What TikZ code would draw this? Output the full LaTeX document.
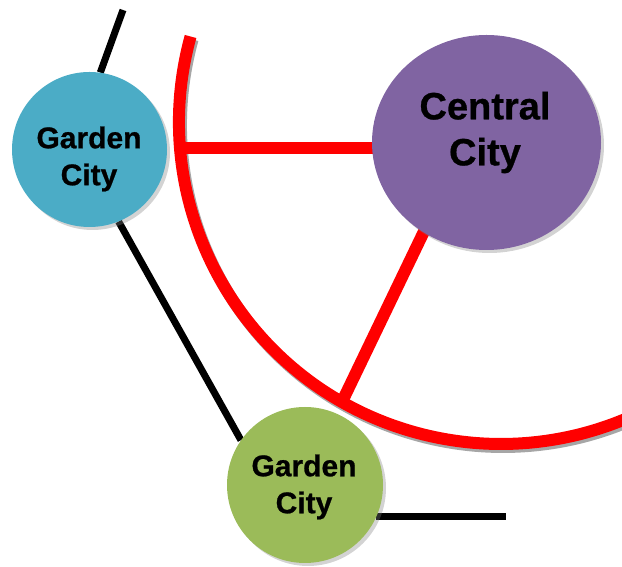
\documentclass[tikz,border=0pt]{standalone}
\usepackage{fontspec}
\setmainfont{Liberation Sans}
\newfontfamily\cityfont{Liberation Sans}[BoldFeatures={FakeBold=0.8}]
\usetikzlibrary{shapes.geometric,shadows}
\definecolor{gcblue}{HTML}{4BACC6}
\definecolor{ccpurple}{HTML}{8064A2}
\definecolor{gcgreen}{HTML}{9BBB59}
\pgfdeclarelayer{lines}
\pgfdeclarelayer{top}
\pgfsetlayers{lines,main,top}
\begin{document}
\begin{tikzpicture}[x=1pt,y=1pt,
  cityshade/.style={drop shadow={opacity=0.35,shadow xshift=3pt,shadow yshift=-3pt}},
  citycircle/.style={circle,inner sep=0pt,minimum size=#1,cityshade},
  gardentext/.style={align=center,inner sep=0pt,font=\cityfont\bfseries\fontsize{30}{37}\selectfont},
  centraltext/.style={align=center,inner sep=0pt,font=\cityfont\bfseries\fontsize{38}{46}\selectfont},
  blackline/.style={draw=black,line width=7pt},
  redline/.style={draw=red,line width=12pt},
  redshade/.style={draw=black!35,line width=12pt}]
\useasboundingbox (0,0) rectangle (622,567);
\clip (0,0) rectangle (622,567);
% cities
\node[citycircle=155pt,fill=gcblue] (blue) at (89.5,417.5) {};
\node[citycircle=156pt,fill=gcgreen] (green) at (305,82) {};
\node[ellipse,inner sep=0pt,minimum width=229pt,minimum height=215pt,fill=ccpurple,cityshade] (central) at (486.5,424.5) {};
\node[gardentext] (bluetext) at (89,408) {Garden\\City};
\node[gardentext] (greentext) at (304,80) {Garden\\City};
\node[centraltext] (centraltxt) at (485,434.5) {Central\\City};
% ring line
\coordinate (arcC) at (501,445);
\path (arcC) ++(164.6:322) coordinate (arcS);
\path (arcC) ++(184.63:322) coordinate (arcA);
\path (arcC) ++(240.4:322) coordinate (arcB);
\coordinate (topend) at (123,557);
\coordinate (gend) at (506,50);
\begin{pgfonlayer}{lines}
  \draw[blackline] (topend) -- (blue.82);
  \draw[blackline] (blue.292) -- (green.145);
  \draw[blackline] (green.336) -- (green.336 -| gend);
  \draw[redshade] ([shift={(2,-3)}]arcS) arc[start angle=164.6,end angle=300,radius=322];
  \draw[redline,shorten >=-6pt] (arcA) -- (arcA -| central.183);
  \draw[redline,shorten >=-8pt] (arcB) -- (central.235.4);
\end{pgfonlayer}
\begin{pgfonlayer}{top}
  \draw[redline] (arcS) arc[start angle=164.6,end angle=300,radius=322];
\end{pgfonlayer}
\end{tikzpicture}
\end{document}
